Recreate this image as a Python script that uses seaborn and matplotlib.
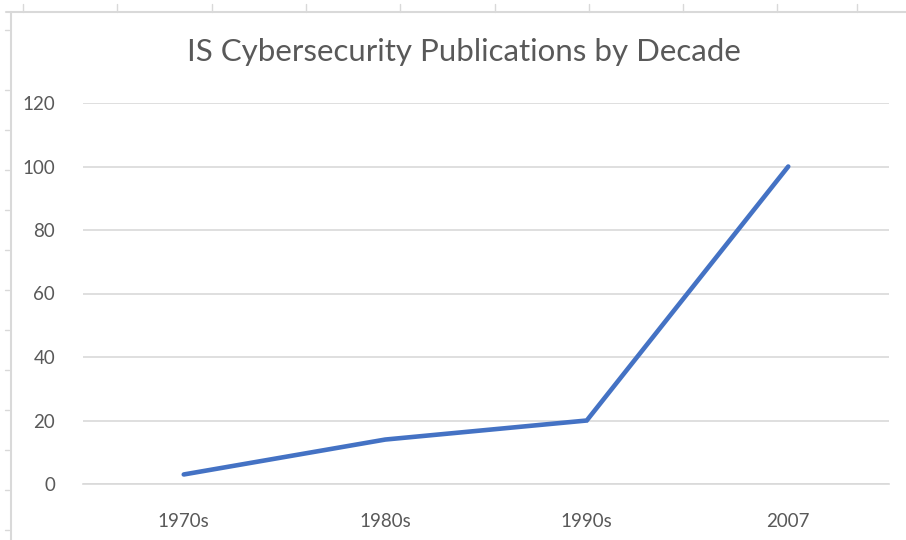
import matplotlib
matplotlib.use('Agg')
import matplotlib.pyplot as plt
import seaborn as sns
import pandas as pd
from matplotlib.lines import Line2D

decades = ['1970s', '1980s', '1990s', '2007']
publications = [3, 14, 20, 100]
y_ticks = [0, 20, 40, 60, 80, 100, 120]

df = pd.DataFrame({'Decade': decades, 'Publications': publications})

sns.set_theme(style='white')
plt.rcParams['font.family'] = ['Lato', 'DejaVu Sans']

fig = plt.figure(figsize=(9.06, 5.4), dpi=100)
ax = fig.add_axes([83 / 906, 56 / 540, 806 / 906, 381 / 540])

# spreadsheet frame around the chart
fig.add_artist(Line2D([6 / 906, 1], [1 - 12 / 540, 1 - 12 / 540], color='#d9d9d9', lw=1.5))
fig.add_artist(Line2D([11 / 906, 11 / 906], [0, 1 - 12 / 540], color='#d9d9d9', lw=1.5))
for cx in [23, 117, 212, 306, 400, 495, 589, 683, 777, 857]:
    fig.add_artist(Line2D([cx / 906, cx / 906], [1 - 12 / 540, 1 - 4 / 540], color='#d9d9d9', lw=1))
for ry in [30, 90, 130, 170, 210, 250, 290, 330, 370, 410, 450, 490, 530]:
    fig.add_artist(Line2D([5 / 906, 9 / 906], [1 - ry / 540, 1 - ry / 540], color='#d9d9d9', lw=1))

sns.lineplot(data=df, x='Decade', y='Publications', color='#4472c4', linewidth=3.3,
             solid_capstyle='round', solid_joinstyle='miter', ax=ax, sort=False)

ax.set_xlim(-0.5, len(decades) - 0.5)
ax.set_ylim(0, 120)
ax.set_yticks(y_ticks)
ax.grid(axis='y', color='#d9d9d9', linewidth=1.2)
ax.set_axisbelow(True)
for s in ['top', 'right', 'left']:
    ax.spines[s].set_visible(False)
ax.spines['bottom'].set_color('#d9d9d9')
ax.spines['bottom'].set_linewidth(1.2)
ax.tick_params(axis='both', length=0, labelsize=13.5, labelcolor='#595959')
ax.tick_params(axis='y', pad=20)
ax.tick_params(axis='x', pad=21)
ax.set_xlabel('')
ax.set_ylabel('')

fig.text(464 / 906, 1 - 52 / 540, 'IS Cybersecurity Publications by Decade',
         ha='center', va='center', fontsize=22.5, color='#595959')

fig.savefig('out.png', dpi=100)
